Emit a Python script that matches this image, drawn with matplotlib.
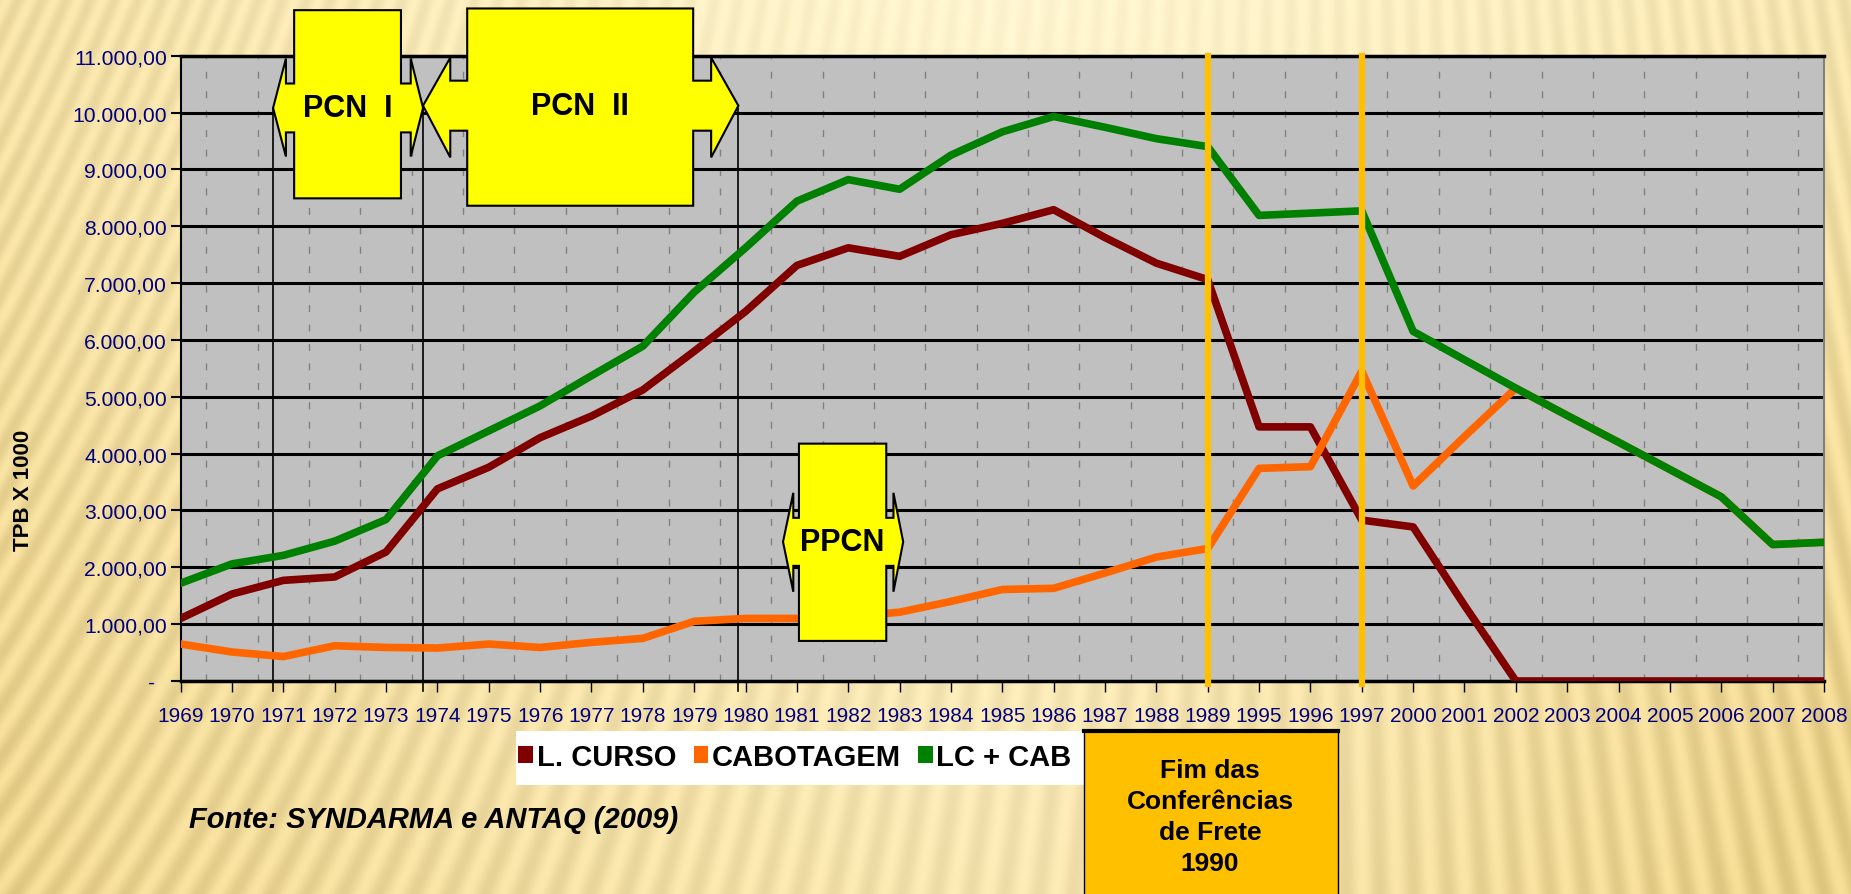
import numpy as np
import matplotlib.pyplot as plt
from matplotlib.patches import Polygon, Rectangle, Patch
from matplotlib.ticker import FuncFormatter

plt.rcParams['font.family'] = ['Liberation Sans', 'DejaVu Sans']

years = ['1969', '1970', '1971', '1972', '1973', '1974', '1975', '1976', '1977',
         '1978', '1979', '1980', '1981', '1982', '1983', '1984', '1985', '1986',
         '1987', '1988', '1989', '1995', '1996', '1997', '2000', '2001', '2002',
         '2003', '2004', '2005', '2006', '2007', '2008']
l_curso = [1100, 1530, 1770, 1830, 2270, 3380, 3760, 4280, 4660, 5120, 5800,
           6500, 7310, 7620, 7470, 7850, 8050, 8290, 7800, 7350, 7060, 4470,
           4470, 2830, 2710, 1330, 0, 0, 0, 0, 0, 0, 0]
cabotagem = [650, 510, 430, 620, 590, 580, 650, 590, 680, 750, 1050, 1100,
             1100, 1130, 1210, 1400, 1610, 1630, 1900, 2180, 2330, 3740, 3770,
             5450, 3430, 4300, 5150, 4670, 4200, 3720, 3240, 2400, 2440]
lc_cab = [1720, 2060, 2210, 2460, 2840, 3960, 4400, 4840, 5370, 5890, 6840,
          7620, 8440, 8820, 8650, 9250, 9660, 9930, 9740, 9540, 9400, 8190,
          8230, 8270, 6150, 5650, 5150, 4670, 4200, 3720, 3240, 2400, 2440]
series_names = ['L. CURSO', 'CABOTAGEM', 'LC + CAB']
series_colors = ['#800000', '#FF6600', '#008000']
marker_years = ['1989', '1997']


def fmt_br(v, pos):
    if v == 0:
        return '-\u2007'
    s = f'{v:,.2f}'
    return s.replace(',', 'X').replace('.', ',').replace('X', '.')


def double_arrow(ax, tip_l, head_l, body_l, body_r, head_r, tip_r,
                 body_lo, body_hi, head_lo, head_hi, shaft_lo, shaft_hi, label):
    yc = (shaft_lo + shaft_hi) / 2
    pts = [(tip_l, yc), (head_l, head_hi), (head_l, shaft_hi), (body_l, shaft_hi),
           (body_l, body_hi), (body_r, body_hi), (body_r, shaft_hi), (head_r, shaft_hi),
           (head_r, head_hi), (tip_r, yc), (head_r, head_lo), (head_r, shaft_lo),
           (body_r, shaft_lo), (body_r, body_lo), (body_l, body_lo), (body_l, shaft_lo),
           (head_l, shaft_lo), (head_l, head_lo)]
    ax.add_patch(Polygon(pts, closed=True, facecolor='#FFFF00', edgecolor='black',
                         lw=1.5, clip_on=False, zorder=5))
    ax.text((body_l + body_r) / 2, yc, label, ha='center', va='center',
            fontsize=22, fontweight='bold', zorder=6)
    return tip_l, tip_r


# background: pale golden paper with slanted stripes
H, W = 895, 1851
yy, xx = np.mgrid[0:H, 0:W]
u = xx / W
v = yy / H
k = np.tan(np.radians(25 - 35 * u))
stripes = np.sin(2 * np.pi * (xx + k * yy) / 24)
shade = np.clip(0.5 * (np.abs(u - 0.55) / 0.45) ** 1.2 + 0.35 * v + 0.25 * u * v, 0, 1)
light = np.array([255, 245, 208]) / 255
dark = np.array([236, 211, 140]) / 255
img = light + (dark - light) * shade[..., None]
img = img + ((0.015 + 0.035 * shade) * stripes)[..., None]
img = np.clip(img, 0, 1)

fig = plt.figure(figsize=(18.51, 8.95), dpi=100)
bg = fig.add_axes([0, 0, 1, 1], zorder=-10)
bg.imshow(img, aspect='auto', extent=[0, 1, 0, 1], interpolation='bilinear')
bg.axis('off')

ax = fig.add_axes([0.0976, 0.238, 0.8878, 0.6987])
ax.set_facecolor('#C0C0C0')
x = np.arange(len(years))

for vals, name, col in zip([l_curso, cabotagem, lc_cab], series_names, series_colors):
    ax.plot(x, vals, color=col, lw=5.5, label=name, solid_joinstyle='round', zorder=3)

ax.set_xlim(0, len(years) - 1)
ax.set_ylim(0, 11000)
ax.set_yticks(np.arange(0, 11001, 1000))
ax.yaxis.set_major_formatter(FuncFormatter(fmt_br))
ax.set_xticks(x)
ax.set_xticklabels(years)
ax.set_xticks(x[:-1] + 0.5, minor=True)

ax.set_axisbelow(True)
ax.yaxis.grid(True, color='black', lw=2.2)
ax.xaxis.grid(True, which='minor', color='#808080', lw=1, linestyle=(0, (5, 9)))
ax.tick_params(axis='x', which='major', length=8, width=1, direction='out', pad=10,
               labelsize=15, labelcolor='#000080')
ax.tick_params(axis='x', which='minor', length=0)
ax.tick_params(axis='y', length=7, width=1.5, direction='out', pad=3,
               labelsize=15.2, labelcolor='#000080')

for side in ['left', 'bottom', 'top']:
    ax.spines[side].set_color('black')
ax.spines['left'].set_linewidth(1.5)
ax.spines['bottom'].set_linewidth(2.5)
ax.spines['top'].set_linewidth(2.5)
ax.spines['right'].set_color('#808080')
ax.spines['right'].set_linewidth(1.5)

# vertical gold markers
for yr in marker_years:
    i = years.index(yr)
    ax.plot([i, i], [-60, 11000], color='#FFC000', lw=4.5, clip_on=False, zorder=4)

# PCN / PPCN callouts
tips = []
tips += double_arrow(ax, 1.80, 2.05, 2.21, 4.29, 4.48, 4.72,
                     8490, 11800, 9225, 10950, 9650, 10510, 'PCN  I')
tips += double_arrow(ax, 4.72, 5.25, 5.58, 9.98, 10.33, 10.86,
                     8360, 11830, 9210, 10965, 9680, 10560, 'PCN  II')
double_arrow(ax, 11.73, 11.93, 12.04, 13.74, 13.88, 14.07,
             705, 4175, 1570, 3310, 2025, 2870, 'PPCN')
for t in sorted(set(tips)):
    ax.plot([t, t], [-180, 10080], color='black', lw=1.2, clip_on=False, zorder=2)

# legend on white strip
fig.add_artist(Rectangle((0.2788, 0.1218), 0.3068, 0.0604, transform=fig.transFigure,
                         facecolor='white', edgecolor='none', zorder=1))
handles = [Patch(facecolor=c, label=n) for n, c in zip(series_names, series_colors)]
fig.legend(handles=handles, loc='center', bbox_to_anchor=(0.4295, 0.153), ncol=3,
           frameon=False, handlelength=0.5, handleheight=0.5, handletextpad=0.12,
           columnspacing=0.6, prop={'weight': 'bold', 'size': 21})

# orange note box
fig.add_artist(Rectangle((0.5856, -0.01), 0.1373, 0.192, transform=fig.transFigure,
                         facecolor='#FFC000', edgecolor='black', lw=1, zorder=1))
fig.add_artist(plt.Line2D([0.5856, 0.7229], [0.182, 0.182], transform=fig.transFigure,
                          color='black', lw=3, zorder=2))
fig.text(0.6537, 0.0865, 'Fim das\nConferências\nde Frete\n1990', ha='center',
         va='center', fontsize=19, fontweight='bold', linespacing=1.36, zorder=3)

fig.text(0.1021, 0.0838, 'Fonte: SYNDARMA e ANTAQ (2009)', fontsize=21,
         fontweight='bold', style='italic', va='center', ha='left')
fig.text(0.0125, 0.4525, 'TPB X 1000', rotation=90, fontsize=16, fontweight='bold',
         ha='center', va='center')

fig.savefig('out.png', dpi=100)
